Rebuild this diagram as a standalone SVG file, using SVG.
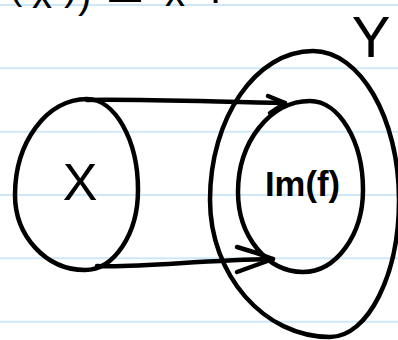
<svg xmlns="http://www.w3.org/2000/svg" width="398" height="340" viewBox="0 0 398 340">
<style>
.rule{stroke:#cde8f8;stroke-width:2;fill:none}
.ink{stroke:#000;stroke-width:4.5;fill:none;stroke-linecap:round;stroke-linejoin:round}
.lbl{font-family:"Liberation Sans","DejaVu Sans",sans-serif;fill:#000}
</style>
<rect width="398" height="340" fill="#fff"/>
<g id="paper">
<line class="rule" x1="0" y1="5" x2="398" y2="5"/>
<line class="rule" x1="0" y1="68.3" x2="398" y2="68.3"/>
<line class="rule" x1="0" y1="131.7" x2="398" y2="131.7"/>
<line class="rule" x1="0" y1="195" x2="398" y2="195"/>
<line class="rule" x1="0" y1="258.3" x2="398" y2="258.3"/>
<line class="rule" x1="0" y1="321.7" x2="398" y2="321.7"/>
</g>
<g id="heading">
<text class="lbl" font-size="40"><tspan x="9" y="-1">(</tspan><tspan x="32" y="8">x</tspan><tspan x="64" y="0">)</tspan><tspan x="78" y="8">)</tspan><tspan x="103" y="2" font-family="DejaVu Sans" font-size="52">⊆</tspan><tspan x="165" y="6">x</tspan><tspan x="210" y="3">.</tspan></text>
</g>
<g id="Y">
<path class="ink" d="M313,51 C360,51 399,118 399,200 C399,275 368,337 330,337 C264,337 210,275 210,200 C210,118 256,51 313,51 Z"/>
<text class="lbl" x="371" y="57" font-size="58" text-anchor="middle">Y</text>
</g>
<g id="X">
<path class="ink" d="M87,99 C115,99 138,140 138,190 C138,234 114,270 85,270 C46,270 15,236 15,195 C15,142 47,99 87,99 Z"/>
<text class="lbl" x="80" y="200" font-size="52" text-anchor="middle">X</text>
</g>
<g id="Imf">
<path class="ink" d="M310,101 C339,101 363,141 363,190 C363,235 336,272 303,272 C267,272 238,236 238,192 C238,142 270,101 310,101 Z"/>
<text class="lbl" x="265" y="196" font-size="35" font-weight="bold" textLength="75" lengthAdjust="spacingAndGlyphs">Im(f)</text>
</g>
<g id="connectors">
<path class="ink" d="M87,100 C140,99 220,102 285,103"/>
<path class="ink" d="M268,96 L285,103 L270,113"/>
<path class="ink" d="M97,266 C140,268 200,260 273,259"/>
<path class="ink" d="M237,247 Q255,252 273,259 L237,272"/>
</g>
</svg>
